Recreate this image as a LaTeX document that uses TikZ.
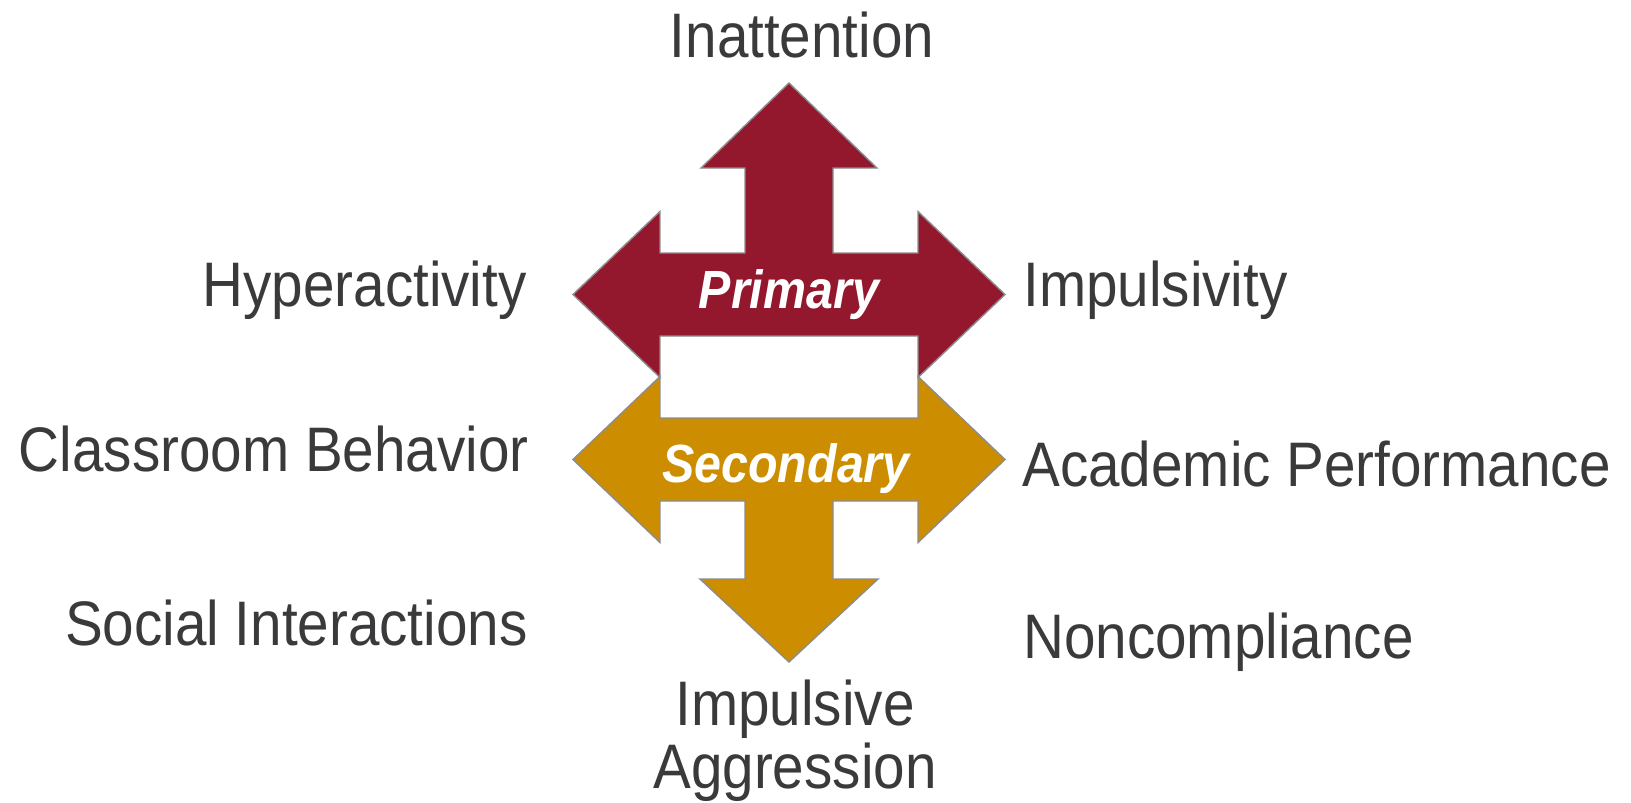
\documentclass[tikz,border=0pt]{standalone}
\usepackage{fontspec}
\setmainfont{Liberation Sans}[FakeStretch=0.9]
\usepackage{xcolor}
\usepackage{tikz}

\definecolor{merah}{RGB}{148,24,45}
\definecolor{emas}{RGB}{204,142,0}
\definecolor{abu}{RGB}{58,58,60}

\begin{document}
\begin{tikzpicture}[
    gejala/.style={text=abu, inner sep=0pt, align=center,
                   font=\fontsize{35.8}{35.85}\selectfont},
    jenis/.style={text=white, inner sep=0pt,
                  font=\fontsize{30.6}{30.6}\selectfont\bfseries\itshape},
    bentuk/.style={draw=gray!90, line width=0.8pt, line join=miter}
  ]
    \useasboundingbox (-15.78,-8.5) rectangle (16.84,7.54);

    \draw[bentuk, fill=merah] (0,5.88) -- (1.76,4.18) -- (0.88,4.18) -- (0.88,2.48)
      -- (2.58,2.48) -- (2.58,3.31) -- (4.32,1.65) -- (2.58,-0.01) -- (2.58,0.82)
      -- (-2.58,0.82) -- (-2.58,-0.01) -- (-4.32,1.65) -- (-2.58,3.31) -- (-2.58,2.48)
      -- (-0.88,2.48) -- (-0.88,4.18) -- (-1.76,4.18) -- cycle;
    \draw[bentuk, fill=emas] (-4.32,-1.65) -- (-2.58,0.01) -- (-2.58,-0.82) -- (2.58,-0.82)
      -- (2.58,0.01) -- (4.32,-1.65) -- (2.58,-3.31) -- (2.58,-2.48) -- (0.88,-2.48)
      -- (0.88,-4.04) -- (1.78,-4.04) -- (0,-5.70) -- (-1.78,-4.04) -- (-0.88,-4.04)
      -- (-0.88,-2.48) -- (-2.58,-2.48) -- (-2.58,-3.31) -- cycle;

    \node[jenis, anchor=base] (primer) at (0,1.38) {Primary};
    \node[jenis, anchor=base] (sekunder) at (-0.06,-2.10) {Secondary};

    \node[gejala, anchor=base] (inatensi) at (0.26,6.40) {Inattention};
    \node[gejala, anchor=base east] (hiper) at (-5.24,1.41) {Hyperactivity};
    \node[gejala, anchor=base west] (impuls) at (4.68,1.42) {Impulsivity};
    \node[gejala, anchor=base east] (kelas) at (-5.20,-1.88) {Classroom Behavior};
    \node[gejala, anchor=base west] (akademik) at (4.66,-2.19) {Academic Performance};
    \node[gejala, anchor=base east] (sosial) at (-5.22,-5.36) {Social Interactions};
    \node[gejala, anchor=base west] (patuh) at (4.68,-5.62) {Noncompliance};
    \node[gejala, anchor=base] (agresi) at (0.12,-8.22) {Impulsive\\Aggression};
\end{tikzpicture}
\end{document}
